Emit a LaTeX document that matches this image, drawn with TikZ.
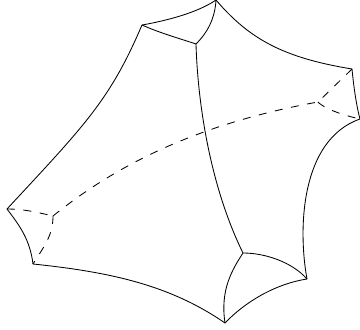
\documentclass[tikz,border=0pt]{standalone}
\tikzset{edge/.style={line width=0.85pt,black,line join=round},
hid/.style={edge,dash pattern=on 8pt off 8.5pt}}
\begin{document}
\begin{tikzpicture}[x=1pt,y=-1pt]
\useasboundingbox (0,0) rectangle (360,330);
\coordinate (A) at (216,0);
\coordinate (B) at (142,25);
\coordinate (C) at (196,44);
\coordinate (D) at (352,69);
\coordinate (E) at (360,119);
\coordinate (F) at (318,102);
\coordinate (G) at (7,209);
\coordinate (H) at (33,264);
\coordinate (I) at (53,216);
\coordinate (J) at (225,323);
\coordinate (K) at (307,279);
\coordinate (L) at (243,253);
\draw[edge] (B) .. controls (165,21) and (197,13) .. (A);
\draw[edge] (B) .. controls (160,33) and (178,38) .. (C);
\draw[edge] (A) .. controls (215,18) and (208,32) .. (C);
\draw[edge] (A) .. controls (250,40) and (285,58) .. (D);
\draw[edge] (B) .. controls (110,100) and (85,125) .. (G);
\draw[edge] (G) .. controls (20,226) and (30,240) .. (H);
\draw[edge] (H) .. controls (110,272) and (170,285) .. (J);
\draw[edge] (J) .. controls (220,290) and (232,270) .. (L);
\draw[edge] (L) .. controls (265,253) and (292,262) .. (K);
\draw[edge] (J) .. controls (245,302) and (275,284) .. (K);
\draw[edge] (C) .. controls (198,110) and (212,190) .. (L);
\draw[edge] (D) .. controls (354,90) and (357,108) .. (E);
\draw[edge] (K) .. controls (298,230) and (300,140) .. (E);
\draw[hid] (D) -- (F);
\draw[hid] (F) .. controls (318,102) and (325,111) .. (E);
\draw[hid] (I) .. controls (110,170) and (190,125) .. (F);
\draw[hid] (G) .. controls (25,209) and (40,213) .. (I);
\draw[hid] (I) .. controls (53,235) and (45,245) .. (H);
\end{tikzpicture}
\end{document}
